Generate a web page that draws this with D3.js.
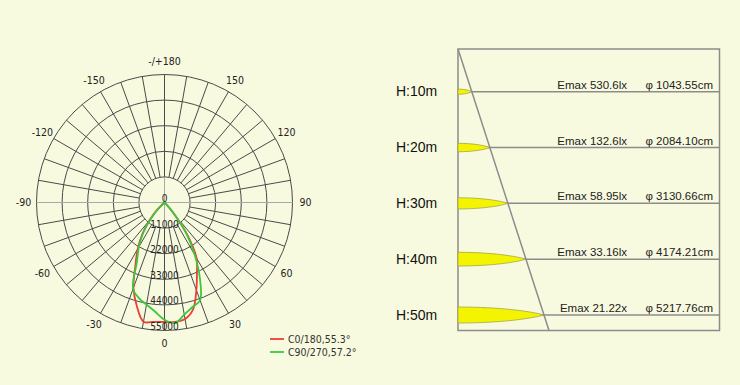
<!DOCTYPE html>
<html>
<head>
<meta charset="utf-8">
<script src="https://cdn.jsdelivr.net/npm/d3@7"></script>
<style>
  body { margin: 0; background: #f8fadf; }
  svg { display: block; }
</style>
</head>
<body>
<div id="chart"></div>
<script>
// polar diagram data (cd), gamma angles in degrees
var gammaAngles = [-50, -45, -40, -35, -30, -25, -20, -15, -10, -5, 0, 5, 10, 15, 20, 25, 30, 35, 40, 45, 50];
var c0Values  = [0, 4500, 10000, 16500, 23000, 29500, 39000, 46000, 52000, 51500, 51300, 51500, 50800, 47500, 40000, 33000, 27500, 17500, 6000, 0, 0];
var c90Values = [0, 3500, 9500, 16000, 22000, 28000, 39500, 42500, 44500, 47000, 50400, 52000, 48900, 46500, 44700, 36000, 26000, 16500, 7000, 1500, 0];
var seriesNames = ["C0/180,55.3°", "C90/270,57.2°"];
var seriesColors = ["#ea3f35", "#3cc83c"];

var ringValues = [0, 11000, 22000, 33000, 44000, 55000];
var angleTicks = [0, 30, 60, 90, 120, 150, 180, -150, -120, -90, -60, -30];
var angleLabels = ["0", "30", "60", "90", "120", "150", "-/+180", "-150", "-120", "-90", "-60", "-30"];

// illuminance table
var heights = [10, 20, 30, 40, 50];
var emaxLabels = ["Emax 530.6lx", "Emax 132.6lx", "Emax 58.95lx", "Emax 33.16lx", "Emax 21.22x"];
var diameters = ["1043.55", "2084.10", "3130.66", "4174.21", "5217.76"];

var W = 740, H = 385;
var svg = d3.select("#chart").append("svg")
    .attr("width", W)
    .attr("height", H);

// ---------- polar chart ----------
var cx = 164.5, cy = 202.5, R = 128;
var r = d3.scaleLinear().domain([0, 55000]).range([0, R]);
var rad = function(deg) { return deg * Math.PI / 180; };
var pfont = "'DejaVu Sans Condensed', 'DejaVu Sans', sans-serif";

var polar = svg.append("g").attr("transform", "translate(" + cx + "," + cy + ")");

// rings
polar.selectAll("circle.ring")
  .data(ringValues.slice(1))
  .enter().append("circle")
    .attr("class", "ring")
    .attr("r", function(d) { return r(d); })
    .attr("fill", "none")
    .attr("stroke", "#4a4a4a")
    .attr("stroke-width", 1);

// light axes through the centre
polar.append("line").attr("x1", -R).attr("x2", R).attr("y1", 0).attr("y2", 0)
    .attr("stroke", "#aaa").attr("stroke-width", 1);
polar.append("line").attr("x1", 0).attr("x2", 0).attr("y1", -r(11000)).attr("y2", r(11000))
    .attr("stroke", "#aaa").attr("stroke-width", 1);

// radial spokes every 10 degrees
var spokes = d3.range(0, 360, 10).filter(function(a) { return a !== 90 && a !== 270; });
polar.selectAll("line.spoke")
  .data(spokes)
  .enter().append("line")
    .attr("class", "spoke")
    .attr("x1", function(a) { return r(11000) * Math.sin(rad(a)); })
    .attr("y1", function(a) { return r(11000) * Math.cos(rad(a)); })
    .attr("x2", function(a) { return R * Math.sin(rad(a)); })
    .attr("y2", function(a) { return R * Math.cos(rad(a)); })
    .attr("stroke", "#4a4a4a")
    .attr("stroke-width", 1);

// curves: angle 0 points down, positive to the right
var line = d3.lineRadial()
    .angle(function(d) { return Math.PI - rad(d.a); })
    .radius(function(d) { return r(d.v); })
    .curve(d3.curveCatmullRom.alpha(0.5));

var series = [c0Values, c90Values].map(function(vals, i) {
  return { name: seriesNames[i], color: seriesColors[i],
           values: gammaAngles.map(function(a, j) { return { a: a, v: vals[j] }; }) };
});

polar.selectAll("path.curve")
  .data(series)
  .enter().append("path")
    .attr("class", "curve")
    .attr("d", function(d) { return line(d.values); })
    .attr("fill", "none")
    .attr("stroke", function(d) { return d.color; })
    .attr("stroke-width", 1.8);

// ring labels
polar.selectAll("text.rlab")
  .data(ringValues)
  .enter().append("text")
    .attr("class", "rlab")
    .attr("x", 0)
    .attr("y", function(d) { return r(d) - 0.5; })
    .attr("text-anchor", "middle")
    .style("font-family", pfont)
    .style("font-size", "10px")
    .style("fill", "#222")
    .text(function(d) { return d; });

// angle labels
polar.selectAll("text.alab")
  .data(angleTicks)
  .enter().append("text")
    .attr("class", "alab")
    .attr("x", function(a) { return 141 * Math.sin(rad(a)); })
    .attr("y", function(a) { return 141 * Math.cos(rad(a)); })
    .attr("dy", "0.35em")
    .attr("text-anchor", "middle")
    .style("font-family", pfont)
    .style("font-size", "10.5px")
    .style("fill", "#222")
    .text(function(a, i) { return angleLabels[i]; });

// legend
var legend = svg.append("g").attr("transform", "translate(270,339)");
var li = legend.selectAll("g").data(series).enter().append("g")
    .attr("transform", function(d, i) { return "translate(0," + (i * 13) + ")"; });
li.append("line").attr("x1", 0).attr("x2", 14).attr("y1", 0).attr("y2", 0)
    .attr("stroke", function(d) { return d.color; }).attr("stroke-width", 1.8);
li.append("text")
    .attr("x", 18).attr("y", 0).attr("dy", "0.35em")
    .style("font-family", pfont)
    .style("font-size", "10.5px")
    .style("fill", "#333")
    .text(function(d) { return d.name; });

// ---------- illuminance table ----------
var boxL = 458, boxR = 719.5, boxT = 49, boxB = 330.5;
var diagBottomX = 549;
var y = d3.scaleLinear().domain([10, 50]).range([91.7, 315]);
var thick = d3.scalePow().exponent(0.7).domain([0, 50]).range([0, 16]);
var diagX = function(yy) { return boxL + (diagBottomX - boxL) * (yy - boxT) / (boxB - boxT); };

var tbl = svg.append("g");

tbl.append("rect")
    .attr("x", boxL).attr("y", boxT)
    .attr("width", boxR - boxL).attr("height", boxB - boxT)
    .attr("fill", "none").attr("stroke", "#8c8c8c").attr("stroke-width", 1.5);

tbl.selectAll("line.row")
  .data(heights)
  .enter().append("line")
    .attr("class", "row")
    .attr("x1", boxL).attr("x2", boxR)
    .attr("y1", function(d) { return y(d); })
    .attr("y2", function(d) { return y(d); })
    .attr("stroke", "#8c8c8c").attr("stroke-width", 1.5);

// light spot shapes
tbl.selectAll("path.spot")
  .data(heights)
  .enter().append("path")
    .attr("class", "spot")
    .attr("d", function(d) {
      var yy = y(d), w = diagX(yy) - boxL, h = thick(d) / 2;
      return "M" + boxL + "," + (yy - h) +
             "C" + (boxL + w * 0.5) + "," + (yy - h) + " " + (boxL + w * 0.85) + "," + (yy - h * 0.45) + " " + (boxL + w) + "," + yy +
             "C" + (boxL + w * 0.85) + "," + (yy + h * 0.45) + " " + (boxL + w * 0.5) + "," + (yy + h) + " " + boxL + "," + (yy + h) + "Z";
    })
    .attr("fill", "#f4f400")
    .attr("stroke", "#a5a54a")
    .attr("stroke-width", 0.8);

tbl.append("line")
    .attr("x1", boxL).attr("y1", boxT)
    .attr("x2", diagBottomX).attr("y2", boxB)
    .attr("stroke", "#8c8c8c").attr("stroke-width", 1.5);

var font = "Arial, 'Liberation Sans', sans-serif";

tbl.selectAll("text.h")
  .data(heights)
  .enter().append("text")
    .attr("class", "h")
    .attr("x", 396).attr("y", function(d) { return y(d) + 4.5; })
    .style("font-family", font).style("font-size", "14px").style("fill", "#111")
    .text(function(d) { return "H:" + d + "m"; });

tbl.selectAll("text.emax")
  .data(heights)
  .enter().append("text")
    .attr("class", "emax")
    .attr("x", 627).attr("y", function(d) { return y(d) - 3; })
    .attr("text-anchor", "end")
    .style("font-family", font).style("font-size", "11.5px").style("fill", "#222")
    .text(function(d, i) { return emaxLabels[i]; });

tbl.selectAll("text.dia")
  .data(heights)
  .enter().append("text")
    .attr("class", "dia")
    .attr("x", 713).attr("y", function(d) { return y(d) - 3; })
    .attr("text-anchor", "end")
    .style("font-family", font).style("font-size", "11.5px").style("fill", "#222")
    .text(function(d, i) { return "φ " + diameters[i] + "cm"; });
</script>
</body>
</html>
